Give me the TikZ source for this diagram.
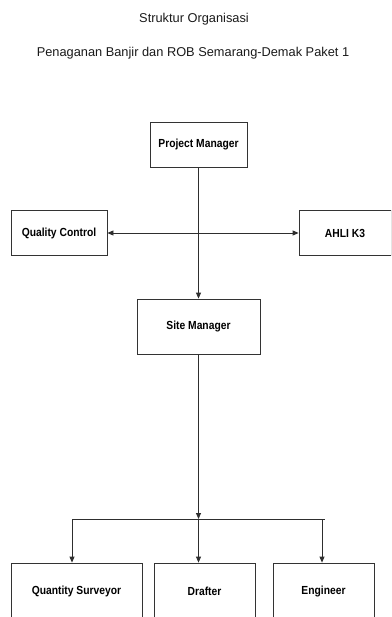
\documentclass[tikz,border=0pt]{standalone}
\usepackage{fontspec}
\setmainfont{Liberation Sans}
\newfontfamily\narrowsans[FakeStretch=0.88]{Liberation Sans}
\usetikzlibrary{positioning, arrows.meta}
\definecolor{lineGray}{HTML}{2e2e2e}
\definecolor{boxLine}{HTML}{333333}
\definecolor{titleTxt}{HTML}{1a1a1a}

\begin{document}
\begin{tikzpicture}[x=1pt, y=-1pt, box/.style={draw=boxLine, line width=0.8pt, inner sep=0pt, align=center, font=\narrowsans\bfseries\fontsize{11.7}{13}\selectfont},ttl/.style={font=\fontsize{12.8}{15}\selectfont, color=titleTxt, anchor=base},conn/.style={draw=lineGray, line width=0.8pt},arr/.style={conn, -{Triangle[length=6pt, width=5pt]}},darr/.style={conn, {Triangle[length=6pt, width=5pt]}-{Triangle[length=6pt, width=5pt]}}]
\useasboundingbox (0,0) rectangle (391,617);
\clip (0,0) rectangle (391,617);
\node[ttl] (title) at (194,23) {Struktur Organisasi};
\node[ttl] (subtitle) at (193,56.5) {Penaganan Banjir dan ROB Semarang-Demak Paket 1};
\node[box, minimum width=97pt, minimum height=45pt] (pm) at (198.5,144.7) {Project Manager};
\node[box, minimum width=96pt, minimum height=45pt] (qc) at (59,233) {Quality Control};
\node[box, minimum width=92pt, minimum height=45pt] (ahli) at (345,233) {AHLI K3};
\node[box, minimum width=123pt, minimum height=55pt] (sm) at (198.5,326.5) {Site Manager};
\node[box, minimum width=131pt, minimum height=56pt] (qs) at (76.5,591) {Quantity Surveyor};
\node[box, minimum width=101pt, minimum height=56pt] (drafter) at (204.5,591) {Drafter};
\node[box, minimum width=101pt, minimum height=56pt] (engineer) at (323.5,591) {Engineer};
\coordinate (busmid) at (198.5,519);
\coordinate (busL) at (72,519);
\coordinate (busC) at (198.5,519);
\coordinate (busR) at (322,519);
\coordinate (busend) at (325,519);
\draw[arr] (pm) -- (sm);
\draw[darr] (qc) -- (ahli);
\draw[arr] (sm) -- (busmid);
\draw[conn] (busL) -- (busend);
\draw[arr] (busL) -- (busL |- qs.north);
\draw[arr] (busC) -- (busC |- drafter.north);
\draw[arr] (busR) -- (busR |- engineer.north);
\end{tikzpicture}
\end{document}
